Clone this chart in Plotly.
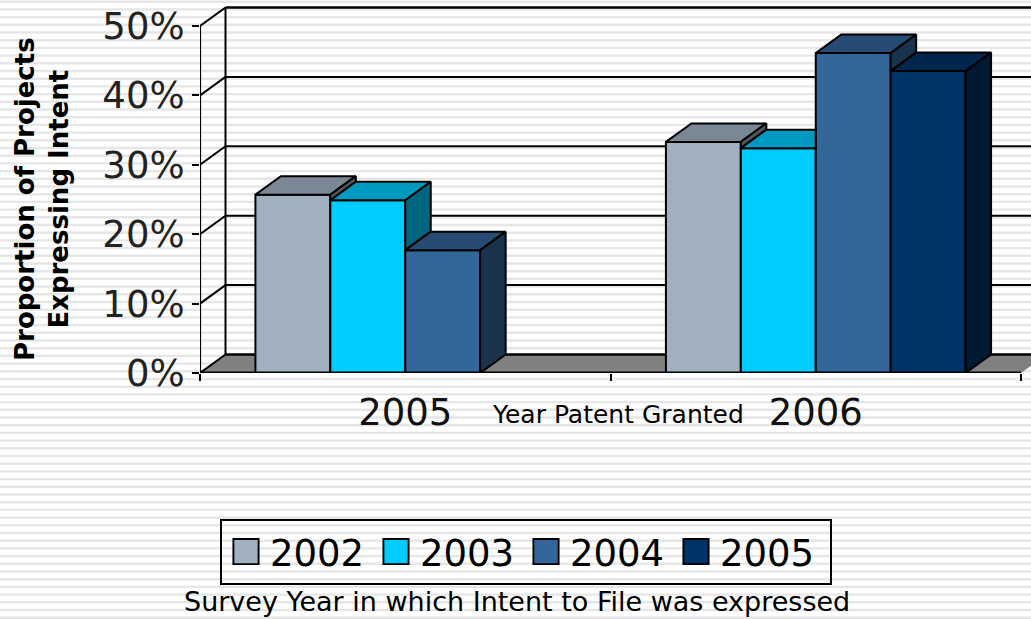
import plotly.graph_objects as go

# ---- data ----
categories = ["2005", "2006"]
survey_years = ["2002", "2003", "2004", "2005"]
values_2002 = [0.257, 0.333]
values_2003 = [0.249, 0.324]
values_2004 = [0.177, 0.461]
values_2005 = [None, 0.435]
y_ticks = [0, 0.1, 0.2, 0.3, 0.4, 0.5]
y_tick_labels = ["0%", "10%", "20%", "30%", "40%", "50%"]

front_colors = ["#A1B1C2", "#00CCFF", "#336699", "#003366"]
top_colors = ["#7A8794", "#0099BF", "#264C73", "#00264D"]
side_colors = ["#515962", "#006680", "#1A334D", "#001A33"]
series = [values_2002, values_2003, values_2004, values_2005]

# ---- geometry ----
W, H = 1031, 619
L_M, B_M = 200, 246
PX_X = 410.5       # pixels per category
PX_Y = 694.0       # pixels per 100 %
x_max = (W - L_M) / PX_X
y_max = (H - B_M) / PX_Y
DX = 25.5 / PX_X   # 3-D depth in axis units
DY = 18.5 / PX_Y
BARGAP = 0.27
BAR_W = (1 - BARGAP) / 4
FONT = "DejaVu Sans"
LW = 2

fig = go.Figure()

# stripes of the page background
shapes = []
n = 0
while 1.7 + n * 7.7 < H:
    yp = 1.7 + n * 7.7
    shapes.append(dict(type="line", xref="paper", yref="paper",
                       x0=-L_M / (W - L_M), x1=1,
                       y0=1 - yp / (H - B_M), y1=1 - yp / (H - B_M),
                       line=dict(color="#E6E6E6", width=2.4), layer="below"))
    n += 1

# floor
shapes.append(dict(type="path", xref="x", yref="y", layer="below",
                   path=f"M0,0 L{DX},{DY} L{2 + DX},{DY} L2,0 Z",
                   fillcolor="#808080", line=dict(width=0)))
shapes.append(dict(type="line", xref="x", yref="y", layer="below",
                   x0=DX, x1=2 + DX, y0=DY, y1=DY, line=dict(color="black", width=2.5)))
# back wall grid lines, and the slanted lines of the side wall
for t in y_ticks:
    shapes.append(dict(type="line", xref="x", yref="y", layer="below",
                       x0=0, x1=DX, y0=t, y1=t + DY, line=dict(color="black", width=LW)))
    if t > 0:
        shapes.append(dict(type="line", xref="x", yref="y", layer="below",
                           x0=DX, x1=x_max + 0.1, y0=t + DY, y1=t + DY,
                           line=dict(color="black", width=LW if t < 0.5 else 2.4)))
shapes.append(dict(type="line", xref="x", yref="y", layer="below",
                   x0=DX, x1=DX, y0=DY, y1=0.5 + DY, line=dict(color="black", width=LW)))

# front faces: real grouped bars
for name, vals, col in zip(survey_years, series, front_colors):
    fig.add_bar(x=[0.5, 1.5], y=vals, name=name, marker=dict(color=col, line=dict(color="black", width=LW)))


def face(xs, ys, color):
    fig.add_scatter(x=xs, y=ys, mode="lines", fill="toself", fillcolor=color,
                    line=dict(color="black", width=LW), showlegend=False, hoverinfo="skip")


# visible top and side faces, computed from the values
for c in range(2):
    for i in range(4):
        v = series[i][c]
        if v is None:
            continue
        x0 = c + BARGAP / 2 + i * BAR_W
        x1 = x0 + BAR_W
        nxt = series[i + 1][c] if i < 3 else None
        if nxt is not None and nxt >= v:
            face([x0, x1, x1, x0 + DX, x0], [v, v, v + DY, v + DY, v], top_colors[i])
        else:
            face([x0, x1, x1 + DX, x0 + DX, x0], [v, v, v + DY, v + DY, v], top_colors[i])
            base = nxt if nxt is not None else 0
            face([x1, x1 + DX, x1 + DX, x1, x1], [base, base + DY, v + DY, v, base], side_colors[i])

# front edges that sit on the plot border
for xs, ys, w in [([0, 0], [0, 0.5], 2.2), ([0, 2], [0, 0], 3)]:
    fig.add_scatter(x=xs, y=ys, mode="lines", line=dict(color="black", width=w),
                    showlegend=False, hoverinfo="skip", cliponaxis=False)

annotations = [
    dict(text="Proportion of Projects<br>Expressing Intent", xref="paper", yref="paper",
         x=(42 - L_M) / (W - L_M), y=1 - 199 / (H - B_M), textangle=-90, showarrow=False,
         xanchor="center", yanchor="middle",
         font=dict(family=FONT, size=26, color="black", weight="bold"), align="center"),
    dict(text="Year Patent Granted", xref="paper", yref="paper",
         x=(618 - L_M) / (W - L_M), y=1 - 414 / (H - B_M), showarrow=False,
         xanchor="center", yanchor="middle",
         font=dict(family=FONT, size=25, color="black")),
    dict(text="Survey Year in which Intent to File was expressed", xref="paper", yref="paper",
         x=(517 - L_M) / (W - L_M), y=1 - 601 / (H - B_M), showarrow=False,
         xanchor="center", yanchor="middle",
         font=dict(family=FONT, size=27, color="black")),
]

fig.update_layout(
    width=W, height=H, autosize=False,
    margin=dict(l=L_M, r=0, t=0, b=B_M),
    paper_bgcolor="white", plot_bgcolor="rgba(0,0,0,0)",
    barmode="group", bargap=BARGAP, bargroupgap=0,
    shapes=shapes, annotations=annotations,
    font=dict(family=FONT, color="black"),
    xaxis=dict(range=[0, x_max], tickvals=[0.5, 1.5], ticktext=categories, ticks="",
               showgrid=False, zeroline=False, showline=False,
               tickfont=dict(family=FONT, size=37, color="#111111"),
               ticklabelstandoff=14,
               minor=dict(tickvals=[0, 1, 2], ticks="outside", ticklen=7, tickwidth=2, tickcolor="black")),
    yaxis=dict(range=[0, y_max], tickvals=y_ticks, ticktext=y_tick_labels, ticks="outside",
               ticklen=7, tickwidth=2, tickcolor="black",
               showgrid=False, zeroline=False, showline=False,
               tickfont=dict(family=FONT, size=37, color="#222222")),
    legend=dict(orientation="h", xref="paper", yref="paper",
                x=(220 - L_M) / (W - L_M), y=1 - 519 / (H - B_M), xanchor="left", yanchor="top",
                bgcolor="rgba(0,0,0,0)", bordercolor="black", borderwidth=2,
                font=dict(family=FONT, size=37, color="black"),
                itemwidth=38, entrywidth=97, entrywidthmode="pixels",
                itemclick=False, itemdoubleclick=False),
    showlegend=True,
)

post = """
document.body.style.margin = '0';
document.body.style.overflow = 'hidden';
var gd = document.getElementsByClassName('plotly-graph-div')[0];
function big(){
  gd.querySelectorAll('.legendpoints path').forEach(function(p){
    p.setAttribute('transform','translate(24,0) scale(2.1)');
    p.style.strokeWidth = '0.9px';
  });
  var bg = gd.querySelector('.legend .bg');
  if (bg) { bg.setAttribute('width', '610'); }
}
[0, 50, 200, 600, 1500].forEach(function(t){ setTimeout(big, t); });
"""
fig.write_html("out.html", post_script=post, config={"displayModeBar": False})
